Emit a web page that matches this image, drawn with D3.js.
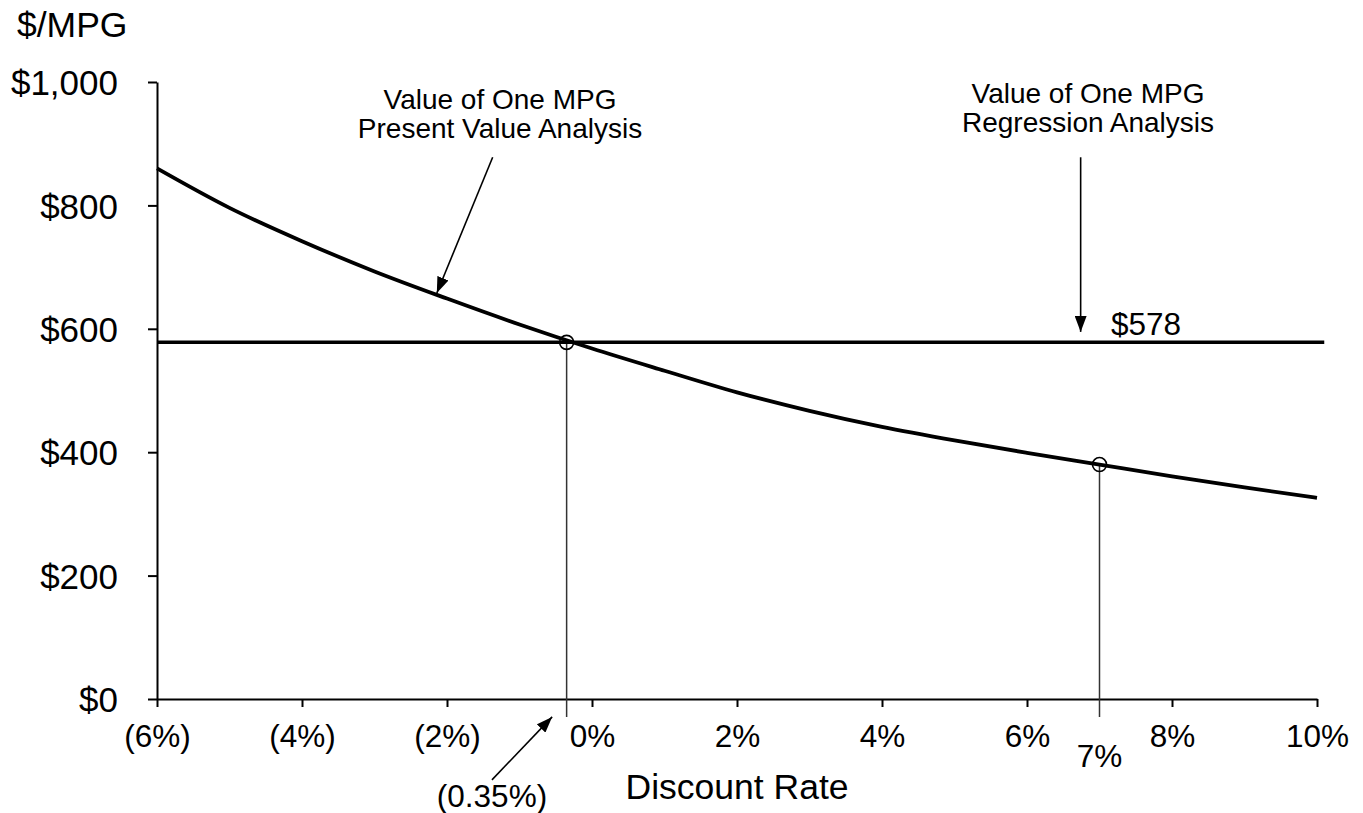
<!DOCTYPE html>
<html>
<head>
<meta charset="utf-8">
<script src="https://cdn.jsdelivr.net/npm/d3@7"></script>
<style>
  html, body { margin: 0; padding: 0; background: #fff; }
  svg { display: block; font-family: "Liberation Sans", Arial, Helvetica, sans-serif; }
</style>
</head>
<body>
<svg id="chart" width="1363" height="813"></svg>
<script>
// ---- Data ----
const rates = [-6, -5, -4, -3, -2, -1, 0, 1, 2, 3, 4, 5, 6, 7, 8, 9, 10];
const pvValues = [860, 796, 742, 693, 649, 607, 568, 532, 497, 467, 441, 419, 399, 380, 361, 343, 326];
const regressionValue = 578;
const breakEvenRate = -0.35;
const breakEvenValue = 578;
const marketRate = 7;
const marketValue = 380;
const xTicks = [-6, -4, -2, 0, 2, 4, 6, 8, 10];
const xTickLabels = ["(6%)", "(4%)", "(2%)", "0%", "2%", "4%", "6%", "8%", "10%"];
const yTicks = [0, 200, 400, 600, 800, 1000];
const yTickLabels = ["$0", "$200", "$400", "$600", "$800", "$1,000"];

// ---- Layout ----
const svg = d3.select("#chart");
const x = d3.scaleLinear().domain([-6, 10]).range([157, 1317]);
const y = d3.scaleLinear().domain([0, 1000]).range([699, 82]);

// arrow marker
svg.append("defs").append("marker")
  .attr("id", "arrow")
  .attr("viewBox", "0 0 16 12")
  .attr("refX", 16).attr("refY", 6)
  .attr("markerWidth", 16).attr("markerHeight", 12)
  .attr("markerUnits", "userSpaceOnUse")
  .attr("orient", "auto")
  .append("path").attr("d", "M0,0 L16,6 L0,12 Z").attr("fill", "#000");

// ---- Axes ----
const yAxis = d3.axisLeft(y).tickValues(yTicks)
  .tickFormat((d, i) => yTickLabels[i]).tickSizeOuter(0).tickSizeInner(9).tickPadding(30);
const gy = svg.append("g").attr("transform", `translate(${x(-6)},0)`).call(yAxis);
gy.select(".domain").attr("stroke", "#000").attr("stroke-width", 2);
gy.selectAll(".tick line").attr("stroke", "#000").attr("stroke-width", 2);
gy.selectAll(".tick text").attr("font-size", 35).attr("fill", "#000")
  .attr("font-family", "Liberation Sans, Arial, sans-serif").attr("dy", "0.36em");

const xAxis = d3.axisBottom(x).tickValues(xTicks)
  .tickFormat((d, i) => xTickLabels[i]).tickSizeOuter(0).tickSizeInner(8).tickPadding(18);
const gx = svg.append("g").attr("transform", `translate(0,${y(0)})`).call(xAxis);
gx.select(".domain").attr("stroke", "#000").attr("stroke-width", 2);
gx.selectAll(".tick line").attr("stroke", "#000").attr("stroke-width", 2);
gx.selectAll(".tick text").attr("font-size", 31.5).attr("fill", "#000")
  .attr("font-family", "Liberation Sans, Arial, sans-serif");

// axis titles
svg.append("text").attr("x", 17).attr("y", 37).attr("font-size", 35.5).text("$/MPG");
svg.append("text").attr("x", 737).attr("y", 799).attr("text-anchor", "middle")
  .attr("font-size", 35.5).text("Discount Rate");

// ---- Drop lines ----
[[breakEvenRate, breakEvenValue], [marketRate, marketValue]].forEach(([r, v]) => {
  svg.append("line")
    .attr("x1", x(r)).attr("x2", x(r))
    .attr("y1", y(v)).attr("y2", y(0) + 18)
    .attr("stroke", "#333").attr("stroke-width", 1.5);
});

// ---- Regression line ----
svg.append("line")
  .attr("x1", x(-6)).attr("x2", x(10.1))
  .attr("y1", y(regressionValue)).attr("y2", y(regressionValue))
  .attr("stroke", "#000").attr("stroke-width", 3.5);

// ---- PV curve ----
const line = d3.line().x((d, i) => x(rates[i])).y(d => y(d)).curve(d3.curveMonotoneX);
svg.append("path").datum(pvValues)
  .attr("d", line).attr("fill", "none")
  .attr("stroke", "#000").attr("stroke-width", 3.8);

// ---- Circles ----
[[breakEvenRate, breakEvenValue], [marketRate, marketValue]].forEach(([r, v]) => {
  svg.append("circle").attr("cx", x(r)).attr("cy", y(v)).attr("r", 7)
    .attr("fill", "none").attr("stroke", "#000").attr("stroke-width", 1.6);
});

// ---- Annotations ----
function arrow(r1, v1, r2, v2) {
  svg.append("line")
    .attr("x1", x(r1)).attr("y1", y(v1)).attr("x2", x(r2)).attr("y2", y(v2))
    .attr("stroke", "#000").attr("stroke-width", 1.6)
    .attr("marker-end", "url(#arrow)");
}
arrow(-1.37, 878, -2.14, 658);
arrow(6.74, 878, 6.74, 595);
arrow(-1.38, -131, -0.55, -29);

function block(cx, lines, y0, lh) {
  lines.forEach((t, i) => {
    svg.append("text").attr("x", cx).attr("y", y0 + i * lh)
      .attr("text-anchor", "middle").attr("font-size", 28).text(t);
  });
}
block(500, ["Value of One MPG", "Present Value Analysis"], 109, 29);
block(1088, ["Value of One MPG", "Regression Analysis"], 103, 29);

svg.append("text").attr("x", 1111).attr("y", 335).attr("font-size", 31.5).text("$578");
svg.append("text").attr("x", x(marketRate)).attr("y", 767).attr("text-anchor", "middle")
  .attr("font-size", 31.5).text("7%");
svg.append("text").attr("x", 492).attr("y", 807).attr("text-anchor", "middle")
  .attr("font-size", 31.5).text("(0.35%)");
</script>
</body>
</html>
